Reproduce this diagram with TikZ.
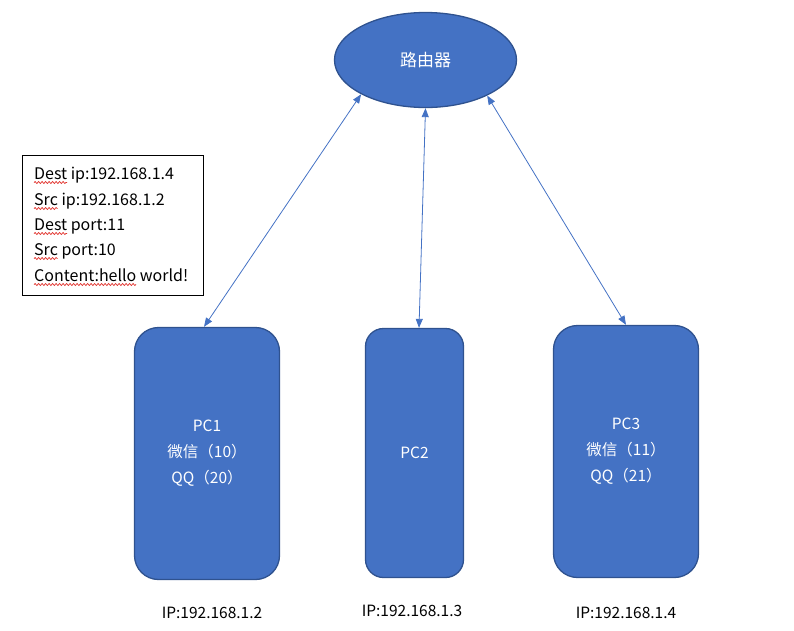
\documentclass[tikz,border=0pt]{standalone}
\usepackage{fontspec}
\setmainfont{Noto Sans CJK SC}
\usetikzlibrary{shapes.geometric,arrows.meta,decorations.pathmorphing}
\definecolor{boxblue}{HTML}{4472C4}
\definecolor{boxedge}{HTML}{2F528F}
\definecolor{squigred}{HTML}{E0302A}
\newcommand\infofont{\fontsize{16}{18}\selectfont}
\newlength\wDest
\newlength\wSrc
\newlength\wContent
\settowidth{\wDest}{\infofont Dest}
\settowidth{\wSrc}{\infofont Src}
\settowidth{\wContent}{\infofont Content:hello}
\begin{document}
\begin{tikzpicture}[x=1pt,y=-1pt,
  pcbox/.style={draw=boxedge,fill=boxblue,line width=1.3pt,rounded corners=24pt,inner sep=0pt,
    text=white,font=\fontsize{15.5}{26}\selectfont,align=center},
  router/.style={ellipse,draw=boxedge,fill=boxblue,line width=1.3pt,inner sep=0pt,
    minimum width=182pt,minimum height=95pt,text=white,font=\fontsize{17}{18}\selectfont},
  link/.style={draw=boxblue,line width=0.8pt,{Triangle[length=9pt,width=7pt]}-{Triangle[length=9pt,width=7pt]}},
  infoline/.style={anchor=base west,inner sep=0pt,font=\infofont},
  iplabel/.style={inner sep=0pt,font=\fontsize{15.5}{18}\selectfont},
  squig/.style={draw=squigred,line width=0.7pt,decorate,decoration={snake,segment length=3.5pt,amplitude=1pt}}]
\useasboundingbox (0,0) rectangle (794,630);
% router
\node[router] (rt) at (425.5,60) {路由器};
% PCs
\node[pcbox,minimum width=145pt,minimum height=252pt] (pc1) at (207,453.5) {PC1\\微信（10）\\QQ（20）};
\node[pcbox,minimum width=98pt,minimum height=249pt,rounded corners=18pt] (pc2) at (414.5,453) {PC2};
\node[pcbox,minimum width=145pt,minimum height=252pt] (pc3) at (626,451.5) {PC3\\微信（11）\\QQ（21）};
% links
\draw[link] ([xshift=-3pt]pc1.north) -- (rt.-152);
\draw[link] ([xshift=4.5pt]pc2.north) -- (rt.south);
\draw[link] (pc3.north) -- (rt.-30);
% info box
\node[draw=black,line width=0.8pt,minimum width=181pt,minimum height=140pt,inner sep=0pt] (info) at (112.5,225) {};
\node[infoline] (l1) at (34,179) {Dest ip:192.168.1.4};
\node[infoline] (l2) at (34,205) {Src ip:192.168.1.2};
\node[infoline] (l3) at (34,230) {Dest port:11};
\node[infoline] (l4) at (34,255) {Src port:10};
\node[infoline] (l5) at (34,281) {Content:hello world!};
\draw[squig] ([yshift=-3.5pt]l1.base west) -- ++(\wDest,0);
\draw[squig] ([yshift=-3.5pt]l2.base west) -- ++(\wSrc,0);
\draw[squig] ([yshift=-3.5pt]l3.base west) -- ++(\wDest,0);
\draw[squig] ([yshift=-3.5pt]l4.base west) -- ++(\wSrc,0);
\draw[squig] ([yshift=-3.5pt]l5.base west) -- ++(\wContent,0);
% IP labels
\node[iplabel] (ip1) at (212,613) {IP:192.168.1.2};
\node[iplabel] (ip2) at (412,611) {IP:192.168.1.3};
\node[iplabel] (ip3) at (626,613) {IP:192.168.1.4};
\end{tikzpicture}
\end{document}
